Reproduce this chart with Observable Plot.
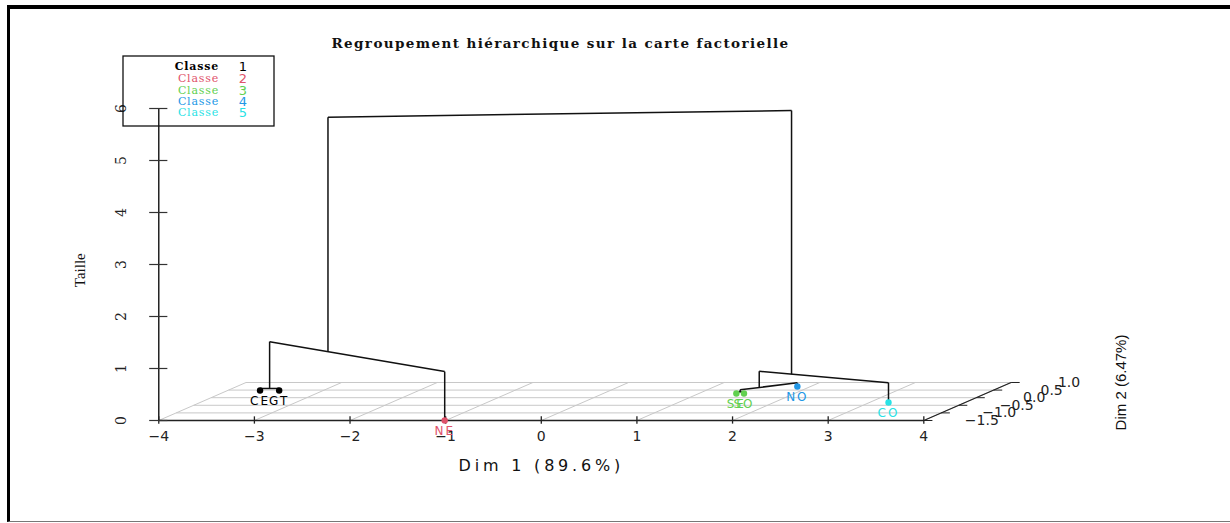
<!DOCTYPE html>
<html><head><meta charset="utf-8">
<script src="https://cdn.jsdelivr.net/npm/d3@7"></script>
<script src="https://cdn.jsdelivr.net/npm/@observablehq/plot@0.6"></script>
<style>
body{margin:0;background:#fff;}
#wrap{position:relative;width:1230px;height:523px;overflow:hidden;background:#fff;}
#wrap svg{position:absolute;left:0;top:0;}
#border{position:absolute;left:7px;top:5px;width:1223px;height:517px;border-top:4px solid #000;border-left:3px solid #000;border-bottom:1px solid #777;box-sizing:border-box;pointer-events:none;}
</style></head><body><div id="wrap"><div id="border"></div></div>
<script>
// ---- data ----
const individuals = ["CE", "GT", "NE", "SE", "SO", "NO", "CO"];
const dim1 = [-3.66, -3.46, -1.01, 1.39, 1.47, 1.86, 3.20];
const dim2 = [0.47, 0.47, -1.5, 0.28, 0.28, 0.74, -0.32];
const classe = [1, 1, 2, 3, 3, 4, 5];
// hierarchical merges (m0..m5)
const mergeLeft = ["CE", "SE", "m1", "m0", "m2", "m3"];
const mergeRight = ["GT", "SO", "NO", "NE", "CO", "m4"];
const mergeHeight = [0.04, 0.03, 0.07, 0.94, 0.38, 5.45];
const dim1Ticks = [-4, -3, -2, -1, 0, 1, 2, 3, 4];
const dim2Ticks = [-1.5, -1.0, -0.5, 0.0, 0.5, 1.0];
const tailleTicks = [0, 1, 2, 3, 4, 5, 6];
const classNames = ["Classe", "Classe", "Classe", "Classe", "Classe"];
const classIds = [1, 2, 3, 4, 5];
const classColors = ["#000000", "#DF536B", "#61D04F", "#2297E6", "#28E2E5"];
const title = "Regroupement hiérarchique sur la carte factorielle";
const xLabel = "Dim 1 (89.6%)";
const yLabel = "Taille";
const zLabel = "Dim 2 (6.47%)";

// ---- oblique projection of the 3D scene (scatterplot3d style) ----
const KX = 0.365, KY = 0.2923, D2MIN = -1.5, D1MIN = -4, D1MAX = 4, D2MAX = 1.0;
const PX = (a, b) => a + (b - D2MIN) * KX;
const PY = (b, h) => h + (b - D2MIN) * KY;
const fmtInt = v => (v < 0 ? "\u2212" : "") + Math.abs(v);
const fmtDec = v => (v < 0 ? "\u2212" : "") + Math.abs(v).toFixed(1);

const nodes = {};
individuals.forEach((n, i) => nodes[n] = {d1: dim1[i], d2: dim2[i], h: 0, n: 1});
const segs = [];
mergeLeft.forEach((a, k) => {
  const A = nodes[a], B = nodes[mergeRight[k]], h = mergeHeight[k];
  const n = A.n + B.n;
  nodes["m" + k] = {d1: (A.d1 * A.n + B.d1 * B.n) / n, d2: (A.d2 * A.n + B.d2 * B.n) / n, h, n};
  segs.push({a1: A.d1, b1: A.d2, h1: A.h, a2: A.d1, b2: A.d2, h2: h});
  segs.push({a1: B.d1, b1: B.d2, h1: B.h, a2: B.d1, b2: B.d2, h2: h});
  segs.push({a1: A.d1, b1: A.d2, h1: h, a2: B.d1, b2: B.d2, h2: h});
});
const leaves = individuals.map((n, i) => ({name: n, d1: dim1[i], d2: dim2[i], c: classe[i]}));

const plot = Plot.plot({
  width: 1230, height: 523, margin: 0,
  x: {domain: [-5.655, 7.207], axis: null},
  y: {domain: [-1.981, 8.077], axis: null},
  style: {background: "transparent"},
  marks: [
    // floor grid
    Plot.link(dim2Ticks.slice(1), {x1: d => PX(D1MIN, d), y1: d => PY(d, 0), x2: d => PX(D1MAX, d), y2: d => PY(d, 0), stroke: "#c8c8c8", strokeWidth: 1}),
    Plot.link(dim1Ticks, {x1: d => PX(d, D2MIN), y1: d => PY(D2MIN, 0), x2: d => PX(d, D2MAX), y2: d => PY(D2MAX, 0), stroke: "#c8c8c8", strokeWidth: 1}),
    // Dim 1 axis
    Plot.link([0], {x1: () => PX(D1MIN, D2MIN), y1: 0, x2: () => PX(D1MAX, D2MIN), y2: 0, stroke: "#222", strokeWidth: 1.3}),
    Plot.ruleX(dim1Ticks, {x: d => d, y1: -0.07, y2: 0.07, stroke: "#222", strokeWidth: 1.3}),
    Plot.text(dim1Ticks, {x: d => d, y: 0, dy: 16, text: d => fmtInt(d), fontFamily: "DejaVu Sans", fontSize: 14, fill: "#222"}),
    Plot.text([xLabel], {x: 0, y: 0, dy: 45, text: d => d, fontFamily: "DejaVu Sans", fontSize: 16, fill: "#111"}),
    // Taille axis
    Plot.ruleX([D1MIN], {x: d => d, y1: 0, y2: 6, stroke: "#222", strokeWidth: 1.5}),
    Plot.ruleY(tailleTicks, {y: d => d, x1: D1MIN - 0.095, x2: D1MIN + 0.095, stroke: "#333", strokeWidth: 1.2}),
    Plot.text(tailleTicks, {x: D1MIN, y: d => d, dx: -37, rotate: -90, text: d => String(d), fontFamily: "DejaVu Serif", fontSize: 14, fill: "#222"}),
    Plot.text([yLabel], {x: D1MIN, y: 2.89, dx: -79, rotate: -90, text: d => d, fontFamily: "Liberation Serif", fontSize: 15, fill: "#111"}),
    // Dim 2 axis
    Plot.link([0], {x1: () => PX(D1MAX, D2MIN), y1: () => PY(D2MIN, 0), x2: () => PX(D1MAX, D2MAX), y2: () => PY(D2MAX, 0), stroke: "#222", strokeWidth: 1.3}),
    Plot.link(dim2Ticks, {x1: d => PX(D1MAX, d), y1: d => PY(d, 0), x2: d => PX(D1MAX + 0.09, d), y2: d => PY(d, 0), stroke: "#222", strokeWidth: 1}),
    Plot.text(dim2Ticks, {x: d => PX(D1MAX, d), y: d => PY(d, 0), dx: 58, dy: 0, text: d => fmtDec(d), fontFamily: "DejaVu Sans", fontSize: 14, fill: "#222"}),
    Plot.text([zLabel], {x: () => PX(D1MAX, D2MIN), y: () => PY(D2MIN, 0), dx: 197, dy: -38, rotate: -90, text: d => d, fontFamily: "Liberation Sans", fontSize: 15, fill: "#111"}),
    // dendrogram
    Plot.link(segs, {x1: d => PX(d.a1, d.b1), y1: d => PY(d.b1, d.h1), x2: d => PX(d.a2, d.b2), y2: d => PY(d.b2, d.h2), stroke: "#111", strokeWidth: 1.5}),
    // individuals
    Plot.dot(leaves, {x: d => PX(d.d1, d.d2), y: d => PY(d.d2, 0), r: 3.2, fill: d => classColors[d.c - 1], stroke: "none"}),
    Plot.text(leaves, {x: d => PX(d.d1, d.d2), y: d => PY(d.d2, 0), dy: 11, text: "name", fill: d => classColors[d.c - 1], fontFamily: "DejaVu Sans", fontSize: 12}),
    // title
    Plot.text([title], {frameAnchor: "top-left", dx: 560, dy: 38, textAnchor: "middle", text: d => d, fontFamily: "DejaVu Serif", fontWeight: "bold", fontSize: 13.5, fill: "#111"})
  ]
});
document.getElementById("wrap").insertBefore(plot, document.getElementById("border"));

// letter spacing to mimic the wide rendering
const svg = d3.select(plot);
svg.selectAll("text").each(function () {
  const t = this.textContent;
  if (t === xLabel) d3.select(this).attr("letter-spacing", 3.8);
  else if (t === title) d3.select(this).attr("letter-spacing", 1.4);
  else if (individuals.includes(t)) d3.select(this).attr("letter-spacing", 2);
});

// legend box
const lg = svg.append("g");
lg.append("rect").attr("x", 123).attr("y", 56).attr("width", 151).attr("height", 70)
  .attr("fill", "none").attr("stroke", "#111").attr("stroke-width", 1.3);
const rowY = [66, 78, 90, 101, 112];
classIds.forEach((id, i) => {
  lg.append("text").attr("x", 219).attr("y", rowY[i]).attr("dy", "0.35em").attr("text-anchor", "end")
    .attr("font-family", "DejaVu Serif").attr("font-size", 11).attr("letter-spacing", 0.8)
    .attr("font-weight", i === 0 ? "bold" : "normal")
    .attr("fill", classColors[i]).text(classNames[i]);
  lg.append("text").attr("x", 243).attr("y", rowY[i]).attr("dy", "0.35em").attr("text-anchor", "middle")
    .attr("font-family", "DejaVu Sans").attr("font-size", 13)
    .attr("fill", classColors[i]).text(String(id));
});
</script></body></html>
